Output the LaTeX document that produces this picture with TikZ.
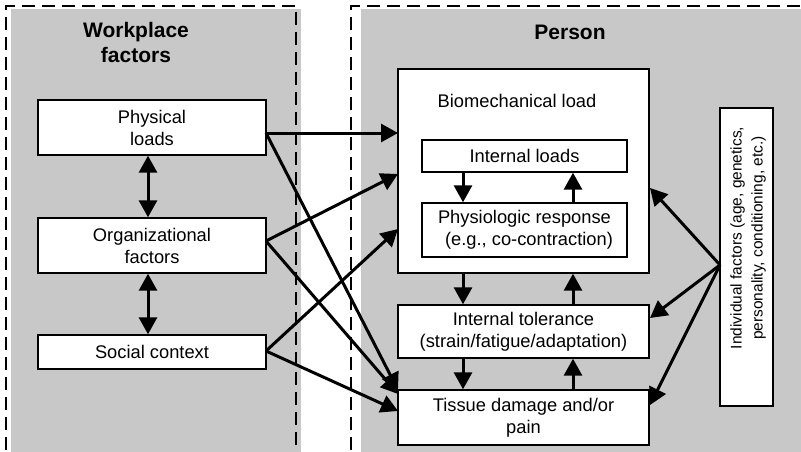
\documentclass[tikz,border=0pt]{standalone}
\usepackage{fontspec}
\setmainfont{Liberation Sans}
\usetikzlibrary{arrows.meta}
\definecolor{panelgray}{RGB}{200,200,200}
\begin{document}
\begin{tikzpicture}[x=1pt,y=-1pt,
 box/.style={draw=black, line width=1.4pt, fill=white, inner sep=0pt, align=center, font=\fontsize{18.3}{22}\selectfont},
 txt/.style={inner sep=0pt, align=center, font=\fontsize{18.3}{22}\selectfont},
 head/.style={inner sep=0pt, align=center, font=\fontsize{21}{25}\selectfont\bfseries},
 panel/.style={draw=black, line width=2pt, dash pattern=on 13pt off 7pt},
 tipA/.tip={Triangle[length=17pt,width=18pt]},
 arr/.style={line width=3pt, -tipA},
 darr/.style={line width=3pt, tipA-tipA},
]
\useasboundingbox (0,0) rectangle (801,452);
\begin{scope}
\clip (0,0) rectangle (801,452);
\fill[panelgray] (11,9) rectangle (301,470);
\fill[panelgray] (361,9) rectangle (820,470);
\draw[panel] (6,470) -- (6,6) -- (296,6) -- (296,470);
\draw[panel] (351,470) -- (351,6) -- (820,6);
\end{scope}

% headings
\node[head, anchor=base] (wph) at (136,63) {Workplace\\factors};
\node[head, anchor=base] (perh) at (570,40) {Person};

% left boxes
\node[box, minimum width=228pt, minimum height=55pt] (phys) at (152,127.5) {Physical\\loads};
\node[box, minimum width=228pt, minimum height=55pt] (org) at (152,245.5) {Organizational\\factors};
\node[box, minimum width=228pt, minimum height=34pt] (soc) at (152,352) {Social context};

% person boxes
\node[box, minimum width=251pt, minimum height=204pt] (bio) at (523.5,171) {};
\node[txt, anchor=base] (biolab) at (517,107) {Biomechanical load};
\node[box, minimum width=205pt, minimum height=32pt] (intl) at (524.5,156) {Internal loads};
\node[box, minimum width=205pt, minimum height=54pt] (resp) at (524.5,230) {Physiologic response\\\hspace*{9pt}(e.g., co-contraction)};
\node[box, minimum width=251pt, minimum height=53pt] (tol) at (523.5,331.5) {Internal tolerance\\(strain/fatigue/adaptation)};
\node[box, minimum width=251pt, minimum height=55pt] (tis) at (523.5,417.5) {Tissue damage and/or\\pain};
\node[box, minimum width=53pt, minimum height=298pt] (ind) at (746.5,257) {};
\node[inner sep=0pt, align=center, rotate=90, font=\fontsize{15.5}{21}\selectfont] (indtxt) at (748,238) {Individual factors (age, genetics,\\personality, conditioning, etc.)};

% connector coordinates
\coordinate (colW) at (148,0);
\coordinate (colL) at (463,0);
\coordinate (colR) at (573,0);
\coordinate (physout) at (266,133);
\coordinate (orgout) at (266,241);
\coordinate (socout) at (266,351);
\coordinate (bioinP) at (398,133);
\coordinate (bioinO) at (398,174);
\coordinate (bioinS) at (398,229);
\coordinate (tisinP) at (398,390);
\coordinate (tisinO) at (398,394);
\coordinate (tisinS) at (398,411);
\coordinate (indout) at (720,265);
\coordinate (bioinI) at (650,188);
\coordinate (tolinI) at (650,318);
\coordinate (tisinI) at (650,405);

% left double arrows
\draw[darr] (colW |- phys.south) -- (colW |- org.north);
\draw[darr] (colW |- org.south) -- (colW |- soc.north);

% workplace -> person
\draw[arr] (physout) -- (bioinP);
\draw[arr] (physout) -- (tisinP);
\draw[arr] (orgout) -- (bioinO);
\draw[arr] (orgout) -- (tisinO);
\draw[arr] (socout) -- (bioinS);
\draw[arr] (socout) -- (tisinS);

% internal vertical arrows
\draw[arr] (colL |- intl.south) -- (colL |- resp.north);
\draw[arr] (colR |- resp.north) -- (colR |- intl.south);
\draw[arr] (colL |- bio.south) -- (colL |- tol.north);
\draw[arr] (colR |- tol.north) -- (colR |- bio.south);
\draw[arr] (colL |- tol.south) -- (colL |- tis.north);
\draw[arr] (colR |- tis.north) -- (colR |- tol.south);

% individual factors
\draw[arr] (indout) -- (bioinI);
\draw[arr] (indout) -- (tolinI);
\draw[arr] (indout) -- (tisinI);
\end{tikzpicture}
\end{document}
